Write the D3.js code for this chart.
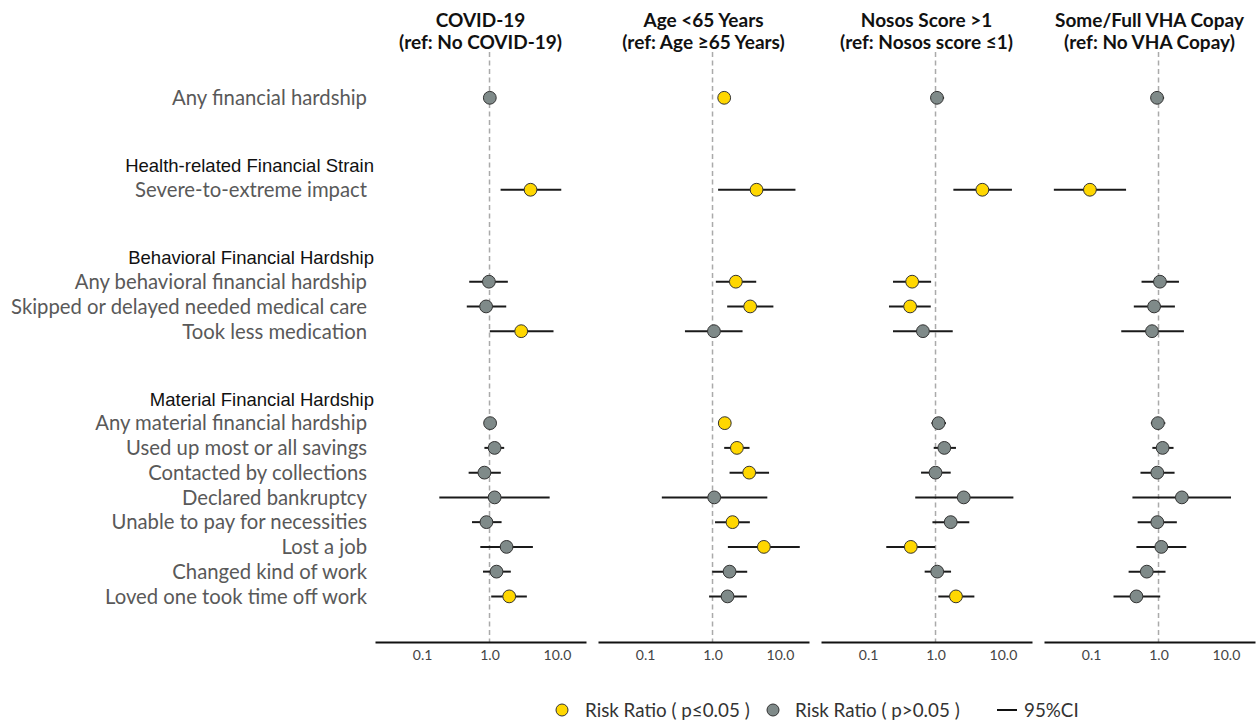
<!DOCTYPE html>
<html>
<head>
<meta charset="utf-8">
<script src="https://cdn.jsdelivr.net/npm/d3@7"></script>
<style>
  html, body { margin: 0; padding: 0; background: #fff; }
  svg { display: block; }
</style>
</head>
<body>
<svg id="chart" width="1257" height="724"></svg>
<script>
// ---------- DATA ----------
const panelTitles = [
  ["COVID-19", "(ref: No COVID-19)"],
  ["Age <65 Years", "(ref: Age \u226565 Years)"],
  ["Nosos Score >1", "(ref: Nosos score \u22641)"],
  ["Some/Full VHA Copay", "(ref: No VHA Copay)"]
];
const groupHeaders = [null, "Health-related Financial Strain", "Behavioral Financial Hardship", "Material Financial Hardship"];
const outcomes = [
  "Any financial hardship",
  "Severe-to-extreme impact",
  "Any behavioral financial hardship",
  "Skipped or delayed needed medical care",
  "Took less medication",
  "Any material financial hardship",
  "Used up most or all savings",
  "Contacted by collections",
  "Declared bankruptcy",
  "Unable to pay for necessities",
  "Lost a job",
  "Changed kind of work",
  "Loved one took time off work"
];
const outcomeGroup = [0, 1, 2, 2, 2, 3, 3, 3, 3, 3, 3, 3, 3];
const tickValues = [0.1, 1, 10];
const tickLabels = ["0.1", "1.0", "10.0"];
const legendLabels = ["Risk Ratio ( p\u22640.05 )", "Risk Ratio ( p>0.05 )", "95%CI"];

// Risk ratios, lower / upper 95% CI, significance (1 = p<=0.05)
const covidRR  = [1.01, 4.06, 0.98, 0.89, 2.95, 1.02, 1.19, 0.84, 1.19, 0.90, 1.79, 1.27, 1.96];
const covidLo  = [0.95, 1.46, 0.50, 0.46, 1.01, 0.95, 0.84, 0.49, 0.18, 0.55, 0.73, 0.80, 1.06];
const covidHi  = [1.08, 11.6, 1.87, 1.77, 8.9, 1.09, 1.65, 1.47, 7.8, 1.51, 4.4, 2.07, 3.58];
const covidSig = [0, 1, 0, 0, 1, 0, 0, 0, 0, 0, 0, 0, 1];

const ageRR  = [1.49, 4.5, 2.22, 3.62, 1.05, 1.52, 2.30, 3.50, 1.06, 1.98, 5.78, 1.79, 1.67];
const ageLo  = [1.33, 1.21, 1.12, 1.65, 0.39, 1.22, 1.49, 1.79, 0.177, 1.09, 1.69, 0.99, 0.89];
const ageHi  = [1.65, 17, 4.45, 8.0, 2.79, 1.88, 3.54, 6.9, 6.5, 3.58, 19.7, 3.27, 3.23];
const ageSig = [1, 1, 1, 1, 0, 1, 1, 1, 0, 1, 1, 0, 0];

const nososRR  = [1.05, 4.95, 0.45, 0.42, 0.65, 1.11, 1.35, 1.0, 2.62, 1.68, 0.43, 1.06, 2.01];
const nososLo  = [0.85, 1.84, 0.234, 0.204, 0.234, 0.87, 0.94, 0.61, 0.50, 0.90, 0.186, 0.69, 1.10];
const nososHi  = [1.34, 13.6, 0.86, 0.85, 1.80, 1.43, 2.01, 1.68, 14.3, 3.17, 0.99, 1.70, 3.77];
const nososSig = [0, 1, 1, 1, 0, 0, 0, 0, 0, 0, 1, 0, 1];

const copayRR  = [0.95, 0.096, 1.05, 0.86, 0.80, 0.98, 1.15, 0.96, 2.22, 0.96, 1.10, 0.67, 0.47];
const copayLo  = [0.77, 0.028, 0.56, 0.43, 0.28, 0.77, 0.81, 0.54, 0.41, 0.49, 0.47, 0.36, 0.215];
const copayHi  = [1.21, 0.33, 2.01, 1.75, 2.38, 1.26, 1.67, 1.73, 11.9, 1.87, 2.58, 1.27, 1.06];
const copaySig = [0, 1, 0, 0, 0, 0, 0, 0, 0, 0, 0, 0, 0];

const panels = [
  { rr: covidRR, lo: covidLo, hi: covidHi, sig: covidSig },
  { rr: ageRR, lo: ageLo, hi: ageHi, sig: ageSig },
  { rr: nososRR, lo: nososLo, hi: nososHi, sig: nososSig },
  { rr: copayRR, lo: copayLo, hi: copayHi, sig: copaySig }
];

// ---------- LAYOUT ----------
const svg = d3.select("#chart");
const yellow = "#FFD700", gray = "#7f8a89";
const panelLeft = 375, panelStep = 223, panelW = 211;
const axisY = 642, refTop = 52;

// row positions (in row units): larger gap between groups
const rowUnits = [];
let u = 0;
outcomes.forEach((d, i) => {
  if (i > 0) u += (outcomeGroup[i] !== outcomeGroup[i - 1]) ? 3.715 : 1;
  rowUnits.push(u);
});
const y = d3.scaleLinear().domain([0, 1]).range([97.8, 97.8 + 24.75]);

// row labels
svg.append("g").selectAll("text").data(outcomes).join("text")
  .attr("x", 367).attr("y", (d, i) => y(rowUnits[i]))
  .attr("dy", "0.36em")
  .attr("text-anchor", "end")
  .style("font-family", "Lato, sans-serif").style("font-size", "20.3px")
  .style("fill", "#595959")
  .text(d => d);

// group headers
groupHeaders.forEach((h, g) => {
  if (!h) return;
  const first = outcomeGroup.indexOf(g);
  svg.append("text")
    .attr("x", 374).attr("y", y(rowUnits[first] - 0.97))
    .attr("dy", "0.36em")
    .attr("text-anchor", "end")
    .style("font-family", "'Liberation Sans', Arial, sans-serif").style("font-size", "18.5px")
    .style("fill", "#111")
    .text(h);
});

panels.forEach((p, k) => {
  const x0 = panelLeft + k * panelStep;
  const x = d3.scaleLog().domain([0.02, 27]).range([x0, x0 + panelW]);
  const g = svg.append("g");

  // reference dashed line
  g.append("line")
    .attr("x1", x(1)).attr("x2", x(1))
    .attr("y1", refTop).attr("y2", axisY)
    .attr("stroke", "#aaaaaa").attr("stroke-width", 1.5)
    .attr("stroke-dasharray", "5,3.5");

  // title (two lines)
  g.append("text")
    .attr("x", x0 + panelW / 2).attr("y", 26.7)
    .attr("text-anchor", "middle")
    .style("font-family", "Lato, sans-serif").style("font-weight", "bold")
    .style("font-size", "19px").style("fill", "#111")
    .text(panelTitles[k][0]);
  g.append("text")
    .attr("x", x0 + panelW / 2).attr("y", 49.3)
    .attr("text-anchor", "middle")
    .style("font-family", "Lato, sans-serif").style("font-weight", "bold")
    .style("font-size", "19px").style("fill", "#111")
    .text(panelTitles[k][1]);

  // axis
  const ax = g.append("g").attr("transform", `translate(0,${axisY})`)
    .call(d3.axisBottom(x).tickValues(tickValues)
      .tickFormat((d, i) => tickLabels[i]).tickSize(0).tickSizeOuter(0).tickPadding(8));
  ax.select(".domain").attr("stroke", "#111").attr("stroke-width", 2);
  ax.selectAll("text").style("font-family", "Lato, sans-serif")
    .style("font-size", "14px").style("fill", "#444");

  // CI lines
  g.append("g").selectAll("line").data(outcomes).join("line")
    .attr("x1", (d, i) => x(p.lo[i])).attr("x2", (d, i) => x(p.hi[i]))
    .attr("y1", (d, i) => y(rowUnits[i])).attr("y2", (d, i) => y(rowUnits[i]))
    .attr("stroke", "#1a1a1a").attr("stroke-width", 2);

  // points
  g.append("g").selectAll("circle").data(outcomes).join("circle")
    .attr("cx", (d, i) => x(p.rr[i])).attr("cy", (d, i) => y(rowUnits[i]))
    .attr("r", 6.4)
    .attr("fill", (d, i) => p.sig[i] ? yellow : gray)
    .attr("stroke", "#333").attr("stroke-width", 1);
});

// legend
const lg = svg.append("g").attr("transform", "translate(0,710)");
const legStyle = s => s.style("font-family", "Lato, sans-serif").style("font-size", "18.8px").style("fill", "#333");
lg.append("circle").attr("cx", 562).attr("cy", 0).attr("r", 6).attr("fill", yellow).attr("stroke", "#333");
legStyle(lg.append("text").attr("x", 585).attr("y", 0).attr("dy", "0.36em").text(legendLabels[0]));
lg.append("circle").attr("cx", 773).attr("cy", 0).attr("r", 6).attr("fill", gray).attr("stroke", "#333");
legStyle(lg.append("text").attr("x", 795).attr("y", 0).attr("dy", "0.36em").text(legendLabels[1]));
lg.append("line").attr("x1", 997).attr("x2", 1017).attr("y1", 0).attr("y2", 0).attr("stroke", "#111").attr("stroke-width", 2);
legStyle(lg.append("text").attr("x", 1024).attr("y", 0).attr("dy", "0.36em").text(legendLabels[2]));
</script>
</body>
</html>
